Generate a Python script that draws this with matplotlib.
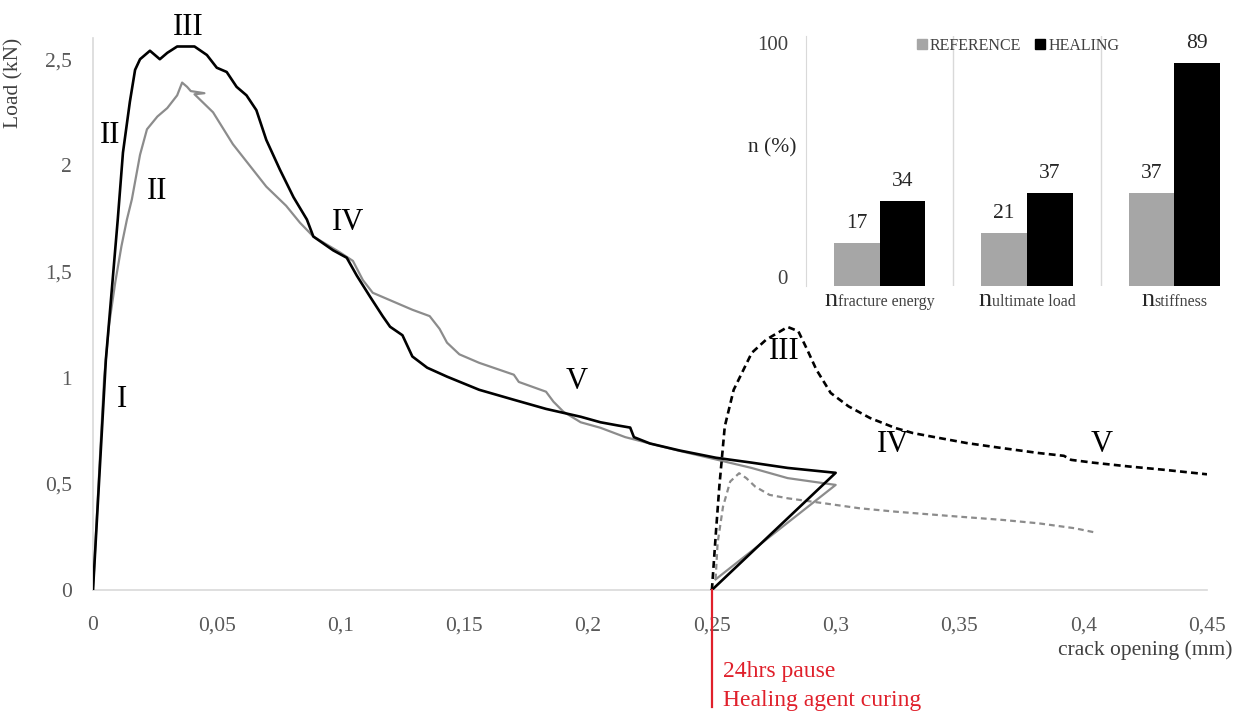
import matplotlib
matplotlib.use("Agg")
import numpy as np
import matplotlib.pyplot as plt
import matplotlib.transforms as mtransforms
from matplotlib.lines import Line2D
from matplotlib.ticker import FuncFormatter

plt.rcParams['font.family'] = ['Liberation Serif', 'DejaVu Serif']

# ---------------------------------------------------------------------------
# data: load vs crack opening
# ---------------------------------------------------------------------------
# healing specimen, first loading up to 0.3 mm and unloading
heal_x = [0, 0.0052, 0.010, 0.0121, 0.0149, 0.017, 0.019, 0.021, 0.023, 0.025,
          0.027, 0.030, 0.034, 0.041, 0.046, 0.050, 0.054, 0.058, 0.062, 0.066,
          0.070, 0.0755, 0.081, 0.0864, 0.089, 0.097, 0.1025, 0.1066, 0.112, 0.117,
          0.120, 0.125, 0.129, 0.135, 0.143, 0.156, 0.170, 0.183, 0.197, 0.205,
          0.212, 0.217, 0.2185, 0.225, 0.237, 0.2516, 0.266, 0.2806, 0.300, 0.250]
heal_y = [0, 1.085, 1.745, 2.06, 2.30, 2.45, 2.50, 2.52, 2.54, 2.52,
          2.50, 2.53, 2.56, 2.56, 2.52, 2.46, 2.44, 2.37, 2.33, 2.26,
          2.12, 1.98, 1.85, 1.745, 1.665, 1.60, 1.565, 1.48, 1.38, 1.29,
          1.24, 1.20, 1.10, 1.047, 1.005, 0.943, 0.896, 0.853, 0.816, 0.79,
          0.775, 0.765, 0.72, 0.69, 0.657, 0.623, 0.60, 0.575, 0.552, 0.0]

# reference specimen, first loading and unloading
ref_x = [0, 0.0045, 0.0065, 0.009, 0.0115, 0.0137, 0.0157, 0.019, 0.0218, 0.026,
         0.030, 0.034, 0.036, 0.038, 0.0395, 0.045, 0.041, 0.0485, 0.0565, 0.0646,
         0.070, 0.078, 0.0836, 0.089, 0.0998, 0.105, 0.109, 0.113, 0.119, 0.129,
         0.136, 0.140, 0.143, 0.148, 0.156, 0.170, 0.172, 0.183, 0.186, 0.190,
         0.197, 0.205, 0.215, 0.225, 0.237, 0.2516, 0.266, 0.2806, 0.300, 0.2515]
ref_y = [0, 1.0, 1.25, 1.45, 1.62, 1.745, 1.84, 2.05, 2.17, 2.23,
         2.27, 2.33, 2.39, 2.37, 2.35, 2.34, 2.335, 2.25, 2.10, 1.98,
         1.90, 1.81, 1.73, 1.665, 1.59, 1.55, 1.46, 1.40, 1.37, 1.32,
         1.29, 1.23, 1.165, 1.11, 1.07, 1.014, 0.98, 0.934, 0.887, 0.84,
         0.79, 0.764, 0.72, 0.69, 0.655, 0.615, 0.575, 0.527, 0.495, 0.05]

# reloading after the 24 h pause
heal_re_x = [0.250, 0.2516, 0.2530, 0.2552, 0.2588, 0.2661, 0.2719, 0.2806, 0.2849,
             0.2885, 0.2922, 0.2980, 0.3052, 0.3139, 0.3241, 0.3313, 0.3386, 0.3530,
             0.3675, 0.3821, 0.3922, 0.3951, 0.4038, 0.4183, 0.4328, 0.450]
heal_re_y = [0.0, 0.267, 0.487, 0.770, 0.943, 1.117, 1.179, 1.239, 1.219,
             1.132, 1.038, 0.928, 0.865, 0.810, 0.763, 0.739, 0.723, 0.692,
             0.668, 0.645, 0.632, 0.613, 0.600, 0.582, 0.566, 0.545]

ref_re_x = [0.2515, 0.2523, 0.2545, 0.2574, 0.261, 0.2639, 0.2675, 0.2733, 0.2806,
            0.295, 0.3096, 0.3241, 0.3458, 0.3675, 0.382, 0.3965, 0.4052]
ref_re_y = [0.05, 0.22, 0.393, 0.511, 0.55, 0.527, 0.487, 0.448, 0.432,
            0.409, 0.385, 0.369, 0.349, 0.330, 0.314, 0.291, 0.270]

pause_opening = 0.25

# healing efficiencies (%)
eff_names = ['fracture energy', 'ultimate load', 'stiffness']
eff_reference = [17, 21, 37]
eff_healing = [34, 37, 89]

BLACK = '#000000'
GREY = '#8c8c8c'
RED = '#e0202b'
AXIS_GREY = '#d9d9d9'
TICK_COL = '#595959'

W, H = 1247, 711
fig = plt.figure(figsize=(W / 100, H / 100), dpi=100)


def px_box(left, top, right, bottom):
    return [left / W, 1 - bottom / H, (right - left) / W, (bottom - top) / H]


##########################################################################################
# main load / crack opening plot
##########################################################################################
ax = fig.add_axes(px_box(93, 38, 1207, 590))

ax.plot(heal_x, heal_y, color=BLACK, lw=1.9, solid_joinstyle='round', zorder=4)
ax.plot(ref_x, ref_y, color=GREY, lw=1.6, solid_joinstyle='round', zorder=3)
ax.plot(heal_re_x, heal_re_y, color=BLACK, lw=1.9, dashes=(2.6, 1.6), zorder=4)
ax.plot(ref_re_x, ref_re_y, color=GREY, lw=1.6, dashes=(2.6, 1.8), zorder=3)

ax.set_xlim(0, 0.45)
ax.set_ylim(0, 2.6)
ax.set_xticks(np.arange(0, 0.451, 0.05))
ax.set_yticks(np.arange(0, 2.51, 0.5))
comma = FuncFormatter(lambda v, p: f"{v:.2f}".rstrip('0').rstrip('.').replace('.', ','))
ax.xaxis.set_major_formatter(comma)
ax.yaxis.set_major_formatter(comma)
ax.tick_params(length=0, labelsize=15.5, labelcolor=TICK_COL)
ax.tick_params(axis='x', pad=19)
ax.tick_params(axis='y', pad=15)
for side in ('top', 'right'):
    ax.spines[side].set_visible(False)
for side in ('left', 'bottom'):
    ax.spines[side].set_color(AXIS_GREY)
    ax.spines[side].set_linewidth(1.2)

ax.set_ylabel('Load (kN)', fontsize=15.5, color='#404040')
ax.yaxis.set_label_coords(-0.062, 0.918)
ax.text(1.0233, -0.109, 'crack opening (mm)', transform=ax.transAxes,
        ha='right', va='center', fontsize=15.5, color='#404040')

# stages of the curves
stages = [('I', 0.0117, 0.896), ('II', 0.0069, 2.142), ('II', 0.0258, 1.877),
          ('III', 0.0384, 2.651), ('IV', 0.1030, 1.731), ('V', 0.1955, 0.981),
          ('III', 0.2791, 1.123), ('IV', 0.3233, 0.684), ('V', 0.4074, 0.684)]
for s, sx, sy in stages:
    ax.text(sx, sy, s, ha='center', va='center', fontsize=22, color=BLACK,
            clip_on=False, zorder=5)

# healing pause marker below the axis
ax.plot([pause_opening, pause_opening], [0, -0.55], color=RED, lw=1.6,
        clip_on=False, zorder=6)
ax.text(pause_opening + 0.0045, -0.385, '24hrs pause', color=RED, fontsize=17,
        ha='left', va='center', clip_on=False)
ax.text(pause_opening + 0.0045, -0.52, 'Healing agent curing', color=RED, fontsize=17,
        ha='left', va='center', clip_on=False)


##########################################################################################
# inset: healing efficiencies
##########################################################################################
axi = fig.add_axes(px_box(806, 35.5, 1248, 285.5))
pos = np.arange(len(eff_names))
bw = 0.31
b_ref = axi.bar(pos - bw / 2, eff_reference, bw, color='#a6a6a6', zorder=2)
b_heal = axi.bar(pos + bw / 2, eff_healing, bw, color=BLACK, zorder=2)
axi.bar_label(b_ref, padding=7, fontsize=15.5, color='#262626')
axi.bar_label(b_heal, padding=7, fontsize=15.5, color='#262626')

axi.set_xlim(-0.5, 2.5)
axi.set_ylim(0, 100)
axi.set_yticks([0, 100])
axi.set_xticks([])
axi.tick_params(length=0, labelsize=15, labelcolor='#404040', pad=13)
# the end labels sit a little inside the value range
for lab, dy in zip(axi.get_yticklabels(), (8, -7)):
    lab.set_transform(lab.get_transform() +
                      mtransforms.ScaledTranslation(0, dy / fig.dpi, fig.dpi_scale_trans))
for side in ('top', 'right', 'bottom'):
    axi.spines[side].set_visible(False)
axi.spines['left'].set_color(AXIS_GREY)
for b in (0.5, 1.5):
    axi.axvline(b, color=AXIS_GREY, lw=1.0, zorder=0)
axi.patch.set_alpha(0)

axi.text(-0.077, 0.55, 'n (%)', transform=axi.transAxes, ha='center', va='center',
         fontsize=15.5, color='#262626')

handles = [Line2D([], [], ls='', marker='s', ms=7, mfc='#a6a6a6', mec='#a6a6a6'),
           Line2D([], [], ls='', marker='s', ms=7, mfc=BLACK, mec=BLACK)]
axi.legend(handles, ['REFERENCE', 'HEALING'], loc='center', bbox_to_anchor=(0.48, 0.96),
           ncol=2, frameon=False, fontsize=11.5, handlelength=0.6, handletextpad=0.2,
           columnspacing=0.9, borderaxespad=0, labelcolor='#404040')

# category labels: large "n" followed by the property name on the same baseline
fig.canvas.draw()
renderer = fig.canvas.get_renderer()
blend = mtransforms.blended_transform_factory(axi.transData, axi.transAxes)
for i, name in enumerate(eff_names):
    t_n = axi.text(i, -0.08, 'n', transform=blend, ha='right', va='baseline',
                   fontsize=19, color='#262626')
    t_s = axi.text(i, -0.08, name, transform=blend, ha='left', va='baseline',
                   fontsize=11.5, color='#404040')
    w_n = t_n.get_window_extent(renderer).width
    w_s = t_s.get_window_extent(renderer).width
    shift = mtransforms.ScaledTranslation((w_n - w_s) / 2 / fig.dpi, 0, fig.dpi_scale_trans)
    t_n.set_transform(blend + shift)
    t_s.set_transform(blend + shift)

fig.savefig('out.png', dpi=100)
